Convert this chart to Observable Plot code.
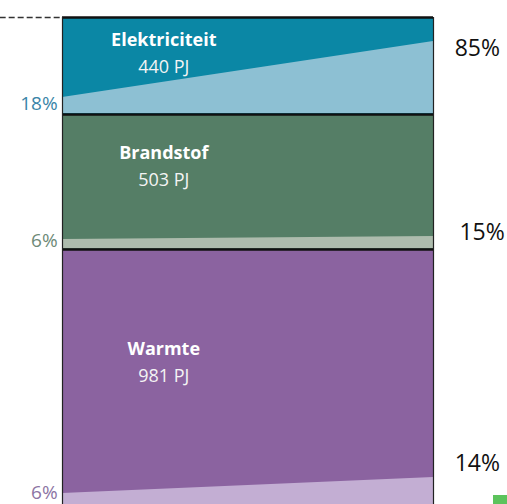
<!DOCTYPE html>
<html><head><meta charset="utf-8">
<script src="https://cdn.jsdelivr.net/npm/d3@7"></script>
<script src="https://cdn.jsdelivr.net/npm/@observablehq/plot@0.6"></script>
<style>body{margin:0;background:#fff;} #chart{position:relative;width:507px;height:504px;overflow:hidden;} svg{display:block;}
.mark{position:absolute;left:493px;top:495px;width:14px;height:9px;background:#5cc35c;}</style>
</head><body><div id="chart"><div class="mark"></div></div>
<script>
// data
const sectors = ["Elektriciteit", "Brandstof", "Warmte"];
const energyPJ = [440, 503, 981];
const blockSize = [96, 133, 254];          // visual block heights (depth units)
const renewStart = [0.167, 0.068, 0.043];  // renewable share drawn at left edge
const renewEnd = [0.75, 0.09, 0.106];      // renewable share drawn at right edge
const startLabels = ["18%", "6%", "6%"];
const endLabels = ["85%", "15%", "14%"];

// styling / layout
const darkColors = ["#0b87a5", "#557e66", "#8b63a0"];
const lightColors = ["#8dc0d3", "#adbcad", "#c3aed3"];
const startLabelColors = ["#3a85a8", "#6e8a78", "#8c74a4"];
const titleOffset = [23, 38, 99];
const startLabelShift = [6, 1, -1];
const endLabelDepth = [31, 215, 446];
const endLabelX = [1.057, 1.07, 1.057];
const gap = 2;

const blocks = [];
let depth = 0;
sectors.forEach((s, i) => {
  const top = depth, bottom = depth + blockSize[i];
  blocks.push({s, i, top, bottom, h: blockSize[i]});
  depth = bottom + gap;
});
const wedges = blocks.flatMap(b => [
  {s: b.s, i: b.i, x: 0, y1: b.bottom, y2: b.bottom - renewStart[b.i] * b.h},
  {s: b.s, i: b.i, x: 1, y1: b.bottom, y2: b.bottom - renewEnd[b.i] * b.h}
]);
const boundaries = [0, ...blocks.slice(0, -1).map(b => b.bottom + gap / 2)];

const chart = Plot.plot({
  width: 507, height: 504,
  marginTop: 0, marginBottom: 0, marginLeft: 0, marginRight: 0,
  x: {domain: [0, 1], range: [62, 433], axis: null},
  y: {domain: [0, 487], range: [17, 504], axis: null},
  style: {fontFamily: "'Open Sans', sans-serif", background: "transparent"},
  marks: [
    Plot.rect(blocks, {x1: 0, x2: 1, y1: "top", y2: d => d.bottom + gap, fill: d => darkColors[d.i]}),
    ...blocks.map(b => Plot.areaY(wedges.filter(w => w.i === b.i), {x: "x", y1: "y1", y2: "y2", fill: lightColors[b.i], curve: "linear"})),
    Plot.ruleY(boundaries, {x1: 0, x2: 1, stroke: "#111", strokeWidth: 2.6}),
    Plot.ruleX([0, 1], {y1: 0, y2: 487, stroke: "#222", strokeWidth: 1.2}),
    Plot.ruleY([0], {x1: -0.168, x2: 0, stroke: "#333", strokeWidth: 1.6, strokeDasharray: "6,3"}),
    Plot.text(blocks, {x: 0.273, y: d => d.top + titleOffset[d.i], text: "s", fill: "#fff", fontWeight: "bold", fontSize: 18}),
    Plot.text(blocks, {x: 0.273, y: d => d.top + titleOffset[d.i] + 27, text: d => energyPJ[d.i] + " PJ", fill: "#f4f4f4", fontSize: 18}),
    Plot.text(blocks, {x: -0.013, y: d => d.bottom - renewStart[d.i] * d.h + startLabelShift[d.i], text: d => startLabels[d.i], textAnchor: "end", fill: d => startLabelColors[d.i], fontSize: 19}),
    Plot.text(blocks, {x: d => endLabelX[d.i], y: d => endLabelDepth[d.i], text: d => endLabels[d.i], textAnchor: "start", fill: "#111", fontSize: 23})
  ]
});
document.getElementById("chart").prepend(chart);
</script></body></html>
